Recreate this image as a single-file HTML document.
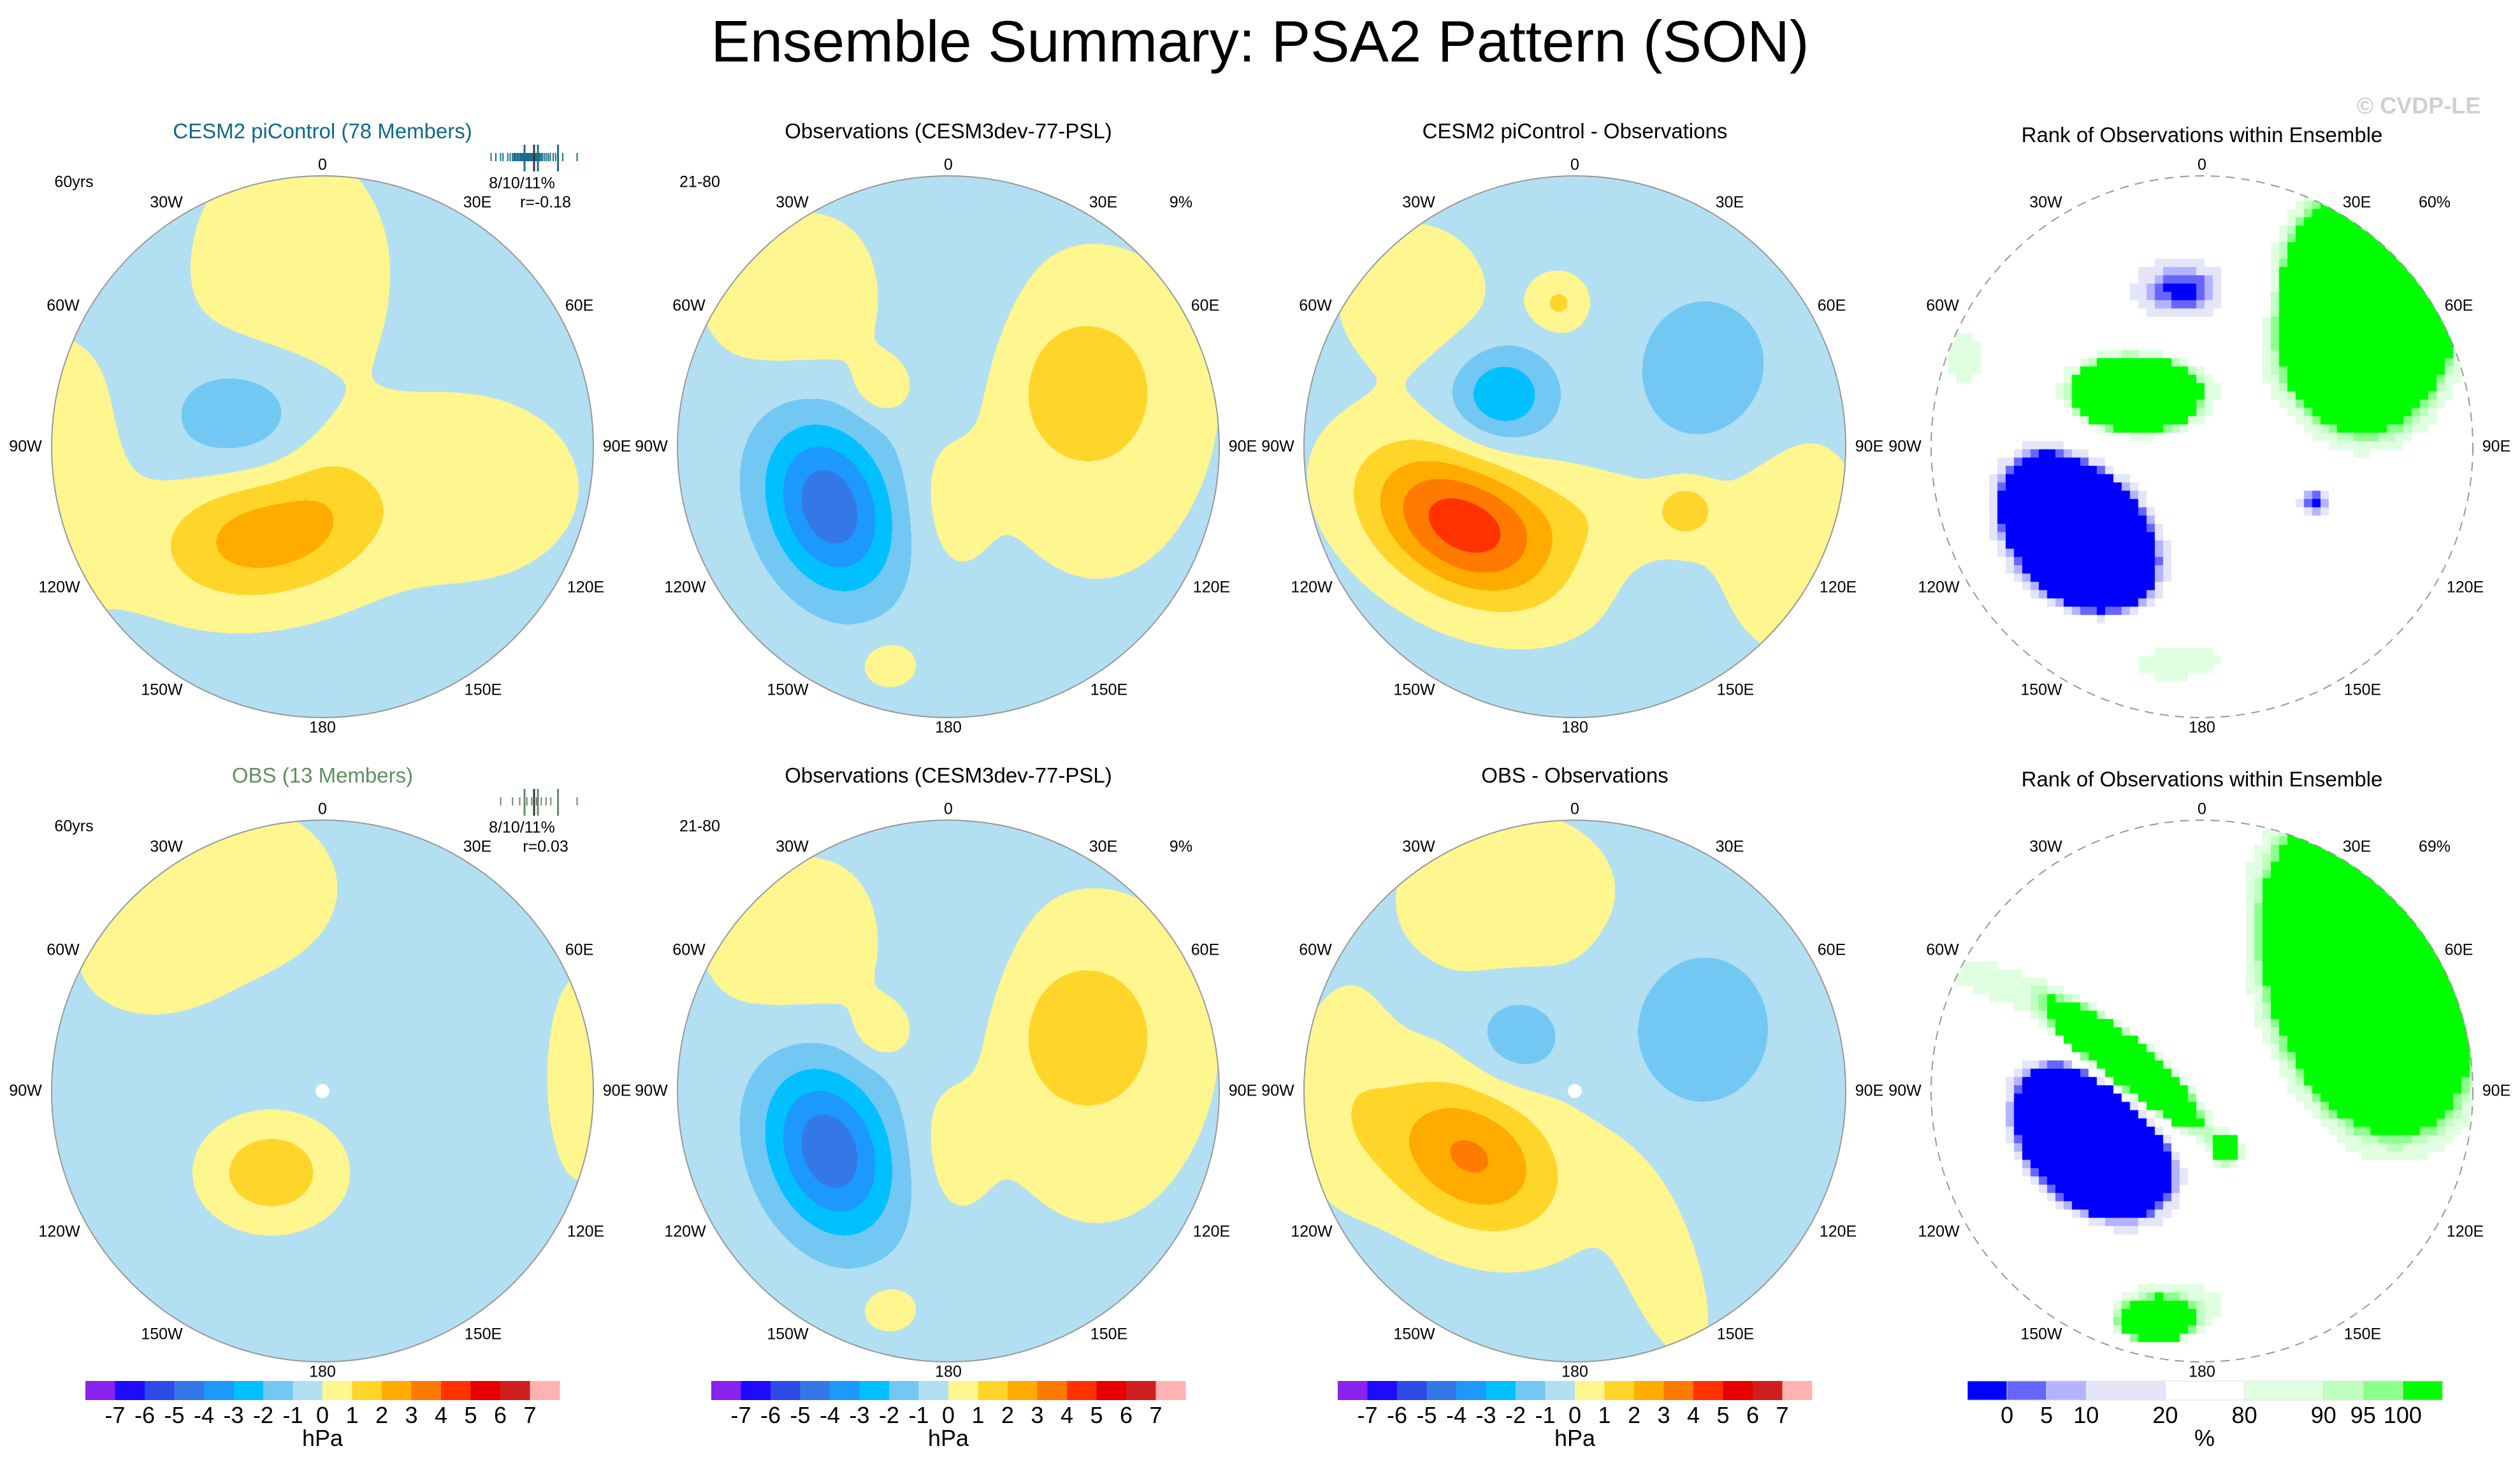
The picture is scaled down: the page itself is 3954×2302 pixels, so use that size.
<!DOCTYPE html>
<html><head><meta charset="utf-8">
<style>
html,body{margin:0;padding:0;background:#fff;}
#root{position:relative;width:3954px;height:2302px;overflow:hidden;font-family:"Liberation Sans",sans-serif;color:#000;}
.t{position:absolute;white-space:nowrap;transform:translate(-50%,-50%);}
canvas{position:absolute;}
svg{position:absolute;left:0;top:0;}
</style></head>
<body>
<div id="root">
<div class="t" style="left:1977px;top:66px;font-size:92px;">Ensemble Summary: PSA2 Pattern (SON)</div>
<div class="t" style="left:3795px;top:166px;font-size:36px;color:#d0d0d0;font-weight:bold;">© CVDP-LE</div>
</div>
<script>
// ---- data ----
// gaussian anomaly centres: [x, y (unit circle coords), amplitude, sigmaX, sigmaY, rotationDeg]
const panelCESM = [[-0.12,-0.65,0.95,0.26,0.33,0],[-0.3,-0.11,-1.5,0.2,0.16,0],[-0.22,0.33,2.9,0.27,0.17,-10],[0.52,0.15,0.95,0.3,0.24,0],[-1.0,0.1,1.0,0.2,0.35,0],[0.02,0.1,0.5,0.12,0.2,0]];
const panelObs = [[-0.44,0.22,-4.4,0.16,0.23,-20],[0.49,-0.22,1.3,0.22,0.22,0],[-0.24,-0.23,1.4,0.07,0.07,0],[0.55,-0.1,0.8,0.3,0.45,0],[-0.55,-0.55,1.0,0.25,0.22,0],[0.0,0.2,0.8,0.1,0.18,0],[-0.22,0.8,1.1,0.07,0.06,0],[0.0,-0.55,-0.8,0.15,0.35,0]];
const panelDiff = [[-0.27,-0.19,-2.6,0.13,0.12,0],[0.48,-0.28,-1.5,0.18,0.2,0],[-0.42,0.29,4.8,0.27,0.17,30],[-0.06,-0.53,1.5,0.07,0.07,0],[0.41,0.23,1.6,0.07,0.07,0],[-0.6,-0.55,0.9,0.2,0.2,0],[0.8,0.35,0.9,0.2,0.3,0],[0.1,0.25,0.8,0.3,0.12,0]];
const panelOBS = [[-0.4,-0.75,1.1,0.3,0.22,0],[-0.19,0.3,2.3,0.15,0.12,0],[0.95,-0.05,1.1,0.08,0.25,0],[-0.65,-0.45,0.6,0.18,0.13,0]];
const panelOBSDiff = [[-0.21,-0.2,-1.4,0.12,0.12,0],[0.47,-0.23,-1.6,0.18,0.2,0],[-0.39,0.24,3.5,0.25,0.18,30],[-0.25,-0.72,1.0,0.28,0.22,0],[0.3,0.6,0.9,0.1,0.3,-20],[-0.85,0.0,0.8,0.13,0.28,0]];
const rankRow1 = [[-0.46,0.32,-250,0.17,0.11,50],[-0.46,0.32,-40,0.35,0.25,50],[-0.25,-0.19,200,0.12,0.07,0],[-0.25,-0.2,45,0.25,0.15,0],[0.6,-0.5,200,0.2,0.27,0],[-0.15,0.78,45,0.3,0.13,0],[-0.07,-0.57,-55,0.18,0.12,0],[0.42,0.2,-55,0.06,0.06,0],[-0.88,-0.3,35,0.15,0.25,0]];
const rankRow2 = [[-0.4,0.18,-250,0.17,0.12,45],[-0.4,0.18,-35,0.28,0.18,45],[0.62,-0.45,200,0.2,0.33,-15],[0.6,-0.4,40,0.3,0.45,-15],[-0.27,-0.08,200,0.21,0.06,40],[-0.17,0.85,200,0.07,0.04,0],[-0.1,0.78,40,0.25,0.1,0],[0.09,0.22,80,0.04,0.04,0],[-0.8,-0.4,35,0.25,0.12,30]];
const baseline = -0.35;
const hpaLevels = [-7,-6,-5,-4,-3,-2,-1,0,1,2,3,4,5,6,7];
const hpaColors = ['#8a22ee','#1e0aff','#2e4be8','#3478e8','#1c98ff','#00c0ff','#72c8f2','#b3dff2','#fff68f','#ffd52a','#ffab00','#ff7a00','#ff3200','#e80000','#d01e1e','#ffb2b2'];
const rankLevels = [0,5,10,20,80,90,95,100];
const rankColors = ['#0000ff','#6666ff','#b3b3ff','#e5e5fa','#ffffff','#e0ffe0','#bfffbf','#8cff8c','#00ff00'];
const rankWidths = [1,1,1,2,2,2,1,1,1];
const lonLabels = ['0','30E','60E','90E','120E','150E','180','150W','120W','90W','60W','30W'];
const membersCESM = [-0.9,-0.8,-0.7,-0.65,-0.55,-0.5,-0.45,-0.42,-0.4,-0.38,-0.35,-0.33,-0.3,-0.28,-0.26,-0.24,-0.22,-0.2,-0.18,-0.16,-0.15,-0.13,-0.12,-0.1,-0.08,-0.06,-0.05,-0.03,-0.01,0.0,0.02,0.04,0.06,0.08,0.1,0.12,0.15,0.18,0.22,0.26,0.3,0.34,0.4,0.45,0.5,0.6,0.9];
const membersOBS = [-0.7,-0.45,-0.3,-0.15,-0.05,0.05,0.15,0.25,0.35,0.5,0.9];
// ---- layout ----
const root = document.getElementById('root');
const R = 425;
const colX = [506,1488,2471,3455];
const rowY = [701,1712];
const panels = [
 {c:0,r:0,type:'h',data:panelCESM,title:'CESM2 piControl (78 Members)',tcol:'#0e6a8a',tl:'60yrs',widget:membersCESM,wcol:'#1a6e8a',w1:'8/10/11%',w2:'r=-0.18'},
 {c:1,r:0,type:'h',data:panelObs,title:'Observations (CESM3dev-77-PSL)',tl:'21-80',tr:'9%'},
 {c:2,r:0,type:'h',data:panelDiff,title:'CESM2 piControl - Observations'},
 {c:3,r:0,type:'r',data:rankRow1,title:'Rank of Observations within Ensemble',tr:'60%'},
 {c:0,r:1,type:'h',data:panelOBS,title:'OBS (13 Members)',tcol:'#5f8f5f',tl:'60yrs',widget:membersOBS,wcol:'#6a8a6a',w1:'8/10/11%',w2:'r=0.03',dot:true},
 {c:1,r:1,type:'h',data:panelObs,title:'Observations (CESM3dev-77-PSL)',tl:'21-80',tr:'9%'},
 {c:2,r:1,type:'h',data:panelOBSDiff,title:'OBS - Observations',dot:true},
 {c:3,r:1,type:'r',data:rankRow2,title:'Rank of Observations within Ensemble',tr:'69%'}
];
function field(data,x,y,base){
  let v=base;
  for(const g of data){
    const a=g[5]*Math.PI/180, dx=x-g[0], dy=y-g[1];
    const u=dx*Math.cos(a)+dy*Math.sin(a), w=-dx*Math.sin(a)+dy*Math.cos(a);
    v+=g[2]*Math.exp(-0.5*(u*u/(g[3]*g[3])+w*w/(g[4]*g[4])));
  }
  return v;
}
function hex(c){return [parseInt(c.substr(1,2),16),parseInt(c.substr(3,2),16),parseInt(c.substr(5,2),16)];}
const hRGB=hpaColors.map(hex), rRGB=rankColors.map(hex);
function hIdx(v){let i=0;while(i<hpaLevels.length&&v>=hpaLevels[i])i++;return i;}
function rIdx(p){if(p<=0)return 0;if(p>=100)return 8;let i=1;while(i<7&&p>=rankLevels[i])i++;return i;}
function txt(x,y,s,size,name,extra){
  const d=document.createElement('div');d.className='t';
  d.style.left=x+'px';d.style.top=y+'px';d.style.fontSize=size+'px';
  if(extra)Object.assign(d.style,extra);
  d.textContent=s;
  
  
  root.appendChild(d);return d;
}
const NS='http://www.w3.org/2000/svg';
const svg=document.createElementNS(NS,'svg');
svg.setAttribute('width',3954);svg.setAttribute('height',2302);


const labOff=[[0,-442],[243,-383],[403,-221],[462,0],[413,221],[252,382],[0,441],[-252,382],[-413,221],[-466,0],[-407,-221],[-245,-383]];
panels.forEach((p,pi)=>{
  const cx=colX[p.c], cy=rowY[p.r];
  const cv=document.createElement('canvas');
  cv.width=2*R;cv.height=2*R;cv.style.left=(cx-R)+'px';cv.style.top=(cy-R)+'px';
  
  
  root.appendChild(cv);
  const ctx=cv.getContext('2d');
  const img=ctx.createImageData(2*R,2*R);
  const cell=p.type==='r'?13:1;
  for(let j=0;j<2*R;j++)for(let i=0;i<2*R;i++){
    const x=(i-R)/R,y=(j-R)/R;
    if(x*x+y*y>1)continue;
    let col;
    if(p.type==='h'){col=hRGB[hIdx(field(p.data,x,y,baseline))];}
    else{const ci=(Math.floor(i/cell)+0.5)*cell,cj=(Math.floor(j/cell)+0.5)*cell;
      col=rRGB[rIdx(field(p.data,(ci-R)/R,(cj-R)/R,50))];}
    const k=(j*2*R+i)*4;img.data[k]=col[0];img.data[k+1]=col[1];img.data[k+2]=col[2];img.data[k+3]=255;
  }
  ctx.putImageData(img,0,0);
  if(p.dot){ctx.fillStyle='#fff';ctx.beginPath();ctx.arc(R,R,11,0,7);ctx.fill();}
  const c=document.createElementNS(NS,'circle');
  c.setAttribute('cx',cx);c.setAttribute('cy',cy);c.setAttribute('r',R);
  c.setAttribute('fill','none');c.setAttribute('stroke','#999');c.setAttribute('stroke-width',2);
  if(p.type==='r')c.setAttribute('stroke-dasharray','14 10');
  
  
  svg.appendChild(c);
  lonLabels.forEach((l,k)=>txt(cx+labOff[k][0],cy+labOff[k][1],l,25,'lon-label'));
  txt(cx,cy-(p.type==='r'?489:495),p.title,33,'panel-title',p.tcol?{color:p.tcol}:null);
  if(p.tl)txt(cx-390,cy-415,p.tl,25,'period-label');
  if(p.tr)txt(cx+365,cy-383,p.tr,25,'percent-label');
  if(p.widget){
    p.widget.forEach(v=>{
      const l=document.createElementNS(NS,'line');
      const x=cx+332+v*75;
      l.setAttribute('x1',x);l.setAttribute('x2',x);l.setAttribute('y1',cy-461);l.setAttribute('y2',cy-448);
      l.setAttribute('stroke',p.wcol);l.setAttribute('stroke-width',2);
      
      
      svg.appendChild(l);
    });
    [-0.2,0.0,0.08,0.5].forEach((v,k)=>{
      const l=document.createElementNS(NS,'line');const x=cx+332+v*75;
      l.setAttribute('x1',x);l.setAttribute('x2',x);l.setAttribute('y1',cy-474);l.setAttribute('y2',cy-432);
      l.setAttribute('stroke',k==1?'#333':p.wcol);l.setAttribute('stroke-width',3);
      
      
      svg.appendChild(l);
    });
    txt(cx+313,cy-413,p.w1,25,'percent-stats');
    txt(cx+350,cy-383,p.w2,25,'pattern-correlation');
  }
});
root.appendChild(svg);
// colorbars
const barY=2167,barH=30;
[0,1,2].forEach(ci=>{
  const x0=colX[ci]-372,w=744/16;
  hpaColors.forEach((col,k)=>{
    const r=document.createElementNS(NS,'rect');
    r.setAttribute('x',x0+k*w);r.setAttribute('y',barY);r.setAttribute('width',w+0.5);r.setAttribute('height',barH);
    r.setAttribute('fill',col);
    
    
    svg.appendChild(r);
  });
  hpaLevels.forEach((l,k)=>txt(x0+(k+1)*w,2221,String(l),36,'colorbar-tick-label'));
  txt(colX[ci],2257,'hPa',36,'colorbar-unit');
});
{
  const x0=3087,tot=745,u=tot/12;let acc=0;const bounds=[];
  rankColors.forEach((col,k)=>{
    const r=document.createElementNS(NS,'rect');
    r.setAttribute('x',x0+acc*u);r.setAttribute('y',barY);r.setAttribute('width',rankWidths[k]*u+0.5);r.setAttribute('height',barH);
    r.setAttribute('fill',col);r.setAttribute('stroke','#ddd');r.setAttribute('stroke-width',1);
    
    
    svg.appendChild(r);
    acc+=rankWidths[k];bounds.push(acc);
  });
  rankLevels.forEach((l,k)=>txt(x0+bounds[k]*u,2221,String(l),36,'rank-colorbar-tick-label'));
  txt(3459,2257,'%',36,'rank-colorbar-unit');
}
</script>
</body></html>
